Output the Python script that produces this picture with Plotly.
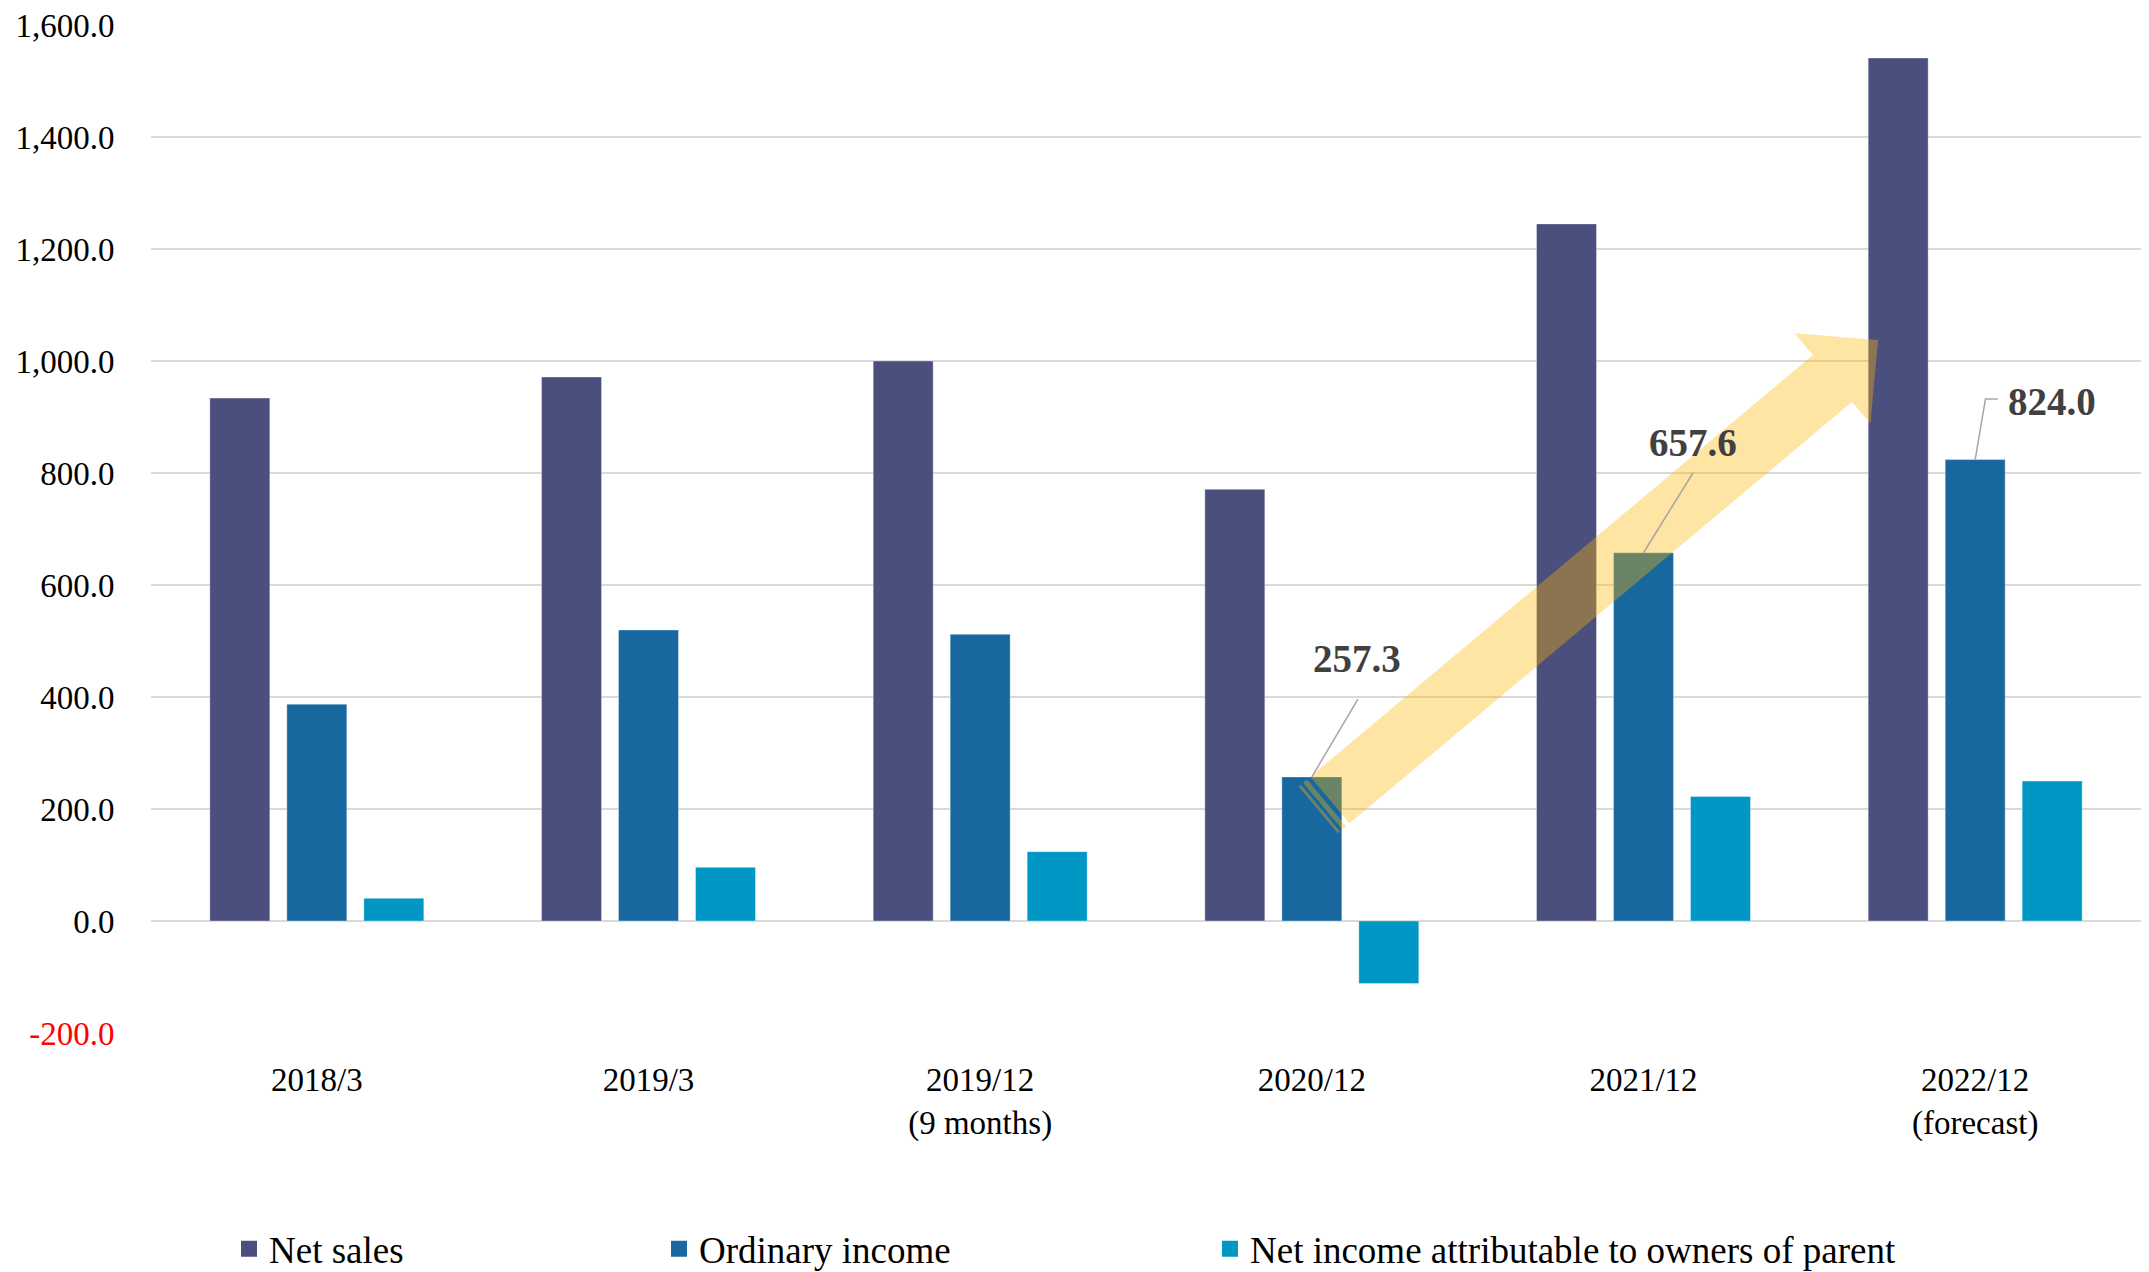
import math
import plotly.graph_objects as go

# Fiscal periods and results (hundred-million yen)
categories = ["2018/3", "2019/3", "2019/12<br>(9 months)", "2020/12", "2021/12", "2022/12<br>(forecast)"]
net_sales = [933.8, 971.3, 999.9, 770.8, 1244.8, 1541.0]
ordinary_income = [387.2, 519.6, 511.9, 257.3, 657.6, 824.0]
net_income = [40.5, 95.8, 123.8, -111.7, 222.5, 249.8]

series_names = ["Net sales", "Ordinary income", "Net income attributable to owners of parent"]
series_colors = ["#4B4F7D", "#18689F", "#0097C4"]

y_ticks = [-200, 0, 200, 400, 600, 800, 1000, 1200, 1400, 1600]

# Highlighted ordinary-income labels: (category index, value)
callouts = [(3, ordinary_income[3]), (4, ordinary_income[4]), (5, ordinary_income[5])]

W, H = 2149, 1272
M_L, M_R, M_T, M_B = 151, 8, 25, 239
PW, PH = W - M_L - M_R, H - M_T - M_B
Y_MIN, Y_MAX = -200, 1600
FONT = "Liberation Serif"

fig = go.Figure()
for name, vals, col in zip(series_names, [net_sales, ordinary_income, net_income], series_colors):
    fig.add_trace(go.Bar(
        x=categories, y=vals, name=name, showlegend=False,
        marker=dict(color=col, line=dict(width=1, color="rgba(255,255,255,0.35)")),
    ))

# Legend entries with larger square swatches, each in its own legend box
legend_ids = ["legend", "legend2", "legend3"]
for name, col, lid in zip(series_names, series_colors, legend_ids):
    fig.add_trace(go.Scatter(
        x=[None], y=[None], mode="markers", name=name, legend=lid,
        marker=dict(symbol="square", size=23, color=col),
    ))


def px_to_paper(px, py):
    return (px - M_L) / PW, (M_T + PH - py) / PH


def arrow_polygon(tail, angle_deg, half_w, body_len, head_half_w, head_len):
    ux, uy = math.cos(math.radians(angle_deg)), -math.sin(math.radians(angle_deg))
    nx, ny = -uy, ux
    tx, ty = tail
    def p(a, b):
        return (tx + ux * a + nx * b, ty + uy * a + ny * b)
    pts = [p(0, -half_w), p(body_len, -half_w), p(body_len, -head_half_w),
           p(body_len + head_len, 0), p(body_len, head_half_w), p(body_len, half_w),
           p(0, half_w)]
    return pts, p


def to_path(pts):
    segs = []
    for i, (x, y) in enumerate(pts):
        xp, yp = px_to_paper(x, y)
        segs.append(("M" if i == 0 else "L") + f"{xp:.5f},{yp:.5f}")
    return " ".join(segs) + " Z"


ARROW_FILL = "rgba(255,184,0,0.36)"
body, p = arrow_polygon((1330, 800), 40, 30.5, 656, 59, 59.5)
shapes = [dict(type="path", xref="paper", yref="paper", path=to_path(body),
               fillcolor=ARROW_FILL, line=dict(width=0), layer="above")]
for a0, a1 in [(-4.5, -9.5), (-12.5, -15.5)]:
    stripe = [p(a0, -30.5), p(a1, -30.5), p(a1, 30.5), p(a0, 30.5)]
    shapes.append(dict(type="path", xref="paper", yref="paper", path=to_path(stripe),
                       fillcolor=ARROW_FILL, line=dict(width=0), layer="above"))

# Leader lines from the labels to the bar tops
LEADER = dict(color="#A6A6A6", width=1.5)
leader_paths = [
    [(3.139, 396.4), (callouts[0][0], callouts[0][1])],
    [(4.149, 800.0), (callouts[1][0], callouts[1][1])],
    [(5.068, 932.0), (5.031, 932.0), (callouts[2][0], callouts[2][1])],
]
for pts in leader_paths:
    d = " ".join(("M" if i == 0 else "L") + f"{x},{y}" for i, (x, y) in enumerate(pts))
    shapes.append(dict(type="path", xref="x", yref="y", path=d, line=LEADER, layer="above"))

label_pos = [(3.136, 469.6), (4.149, 853.6), (5.232, 926.8)]
annotations = []
for (ci, v), (lx, ly) in zip(callouts, label_pos):
    annotations.append(dict(
        x=lx, y=ly, xref="x", yref="y", text=f"<b>{v:.1f}</b>", showarrow=False,
        font=dict(family=FONT, size=39, color="#404040"), xanchor="center", yanchor="middle",
    ))

tick_text = []
for t in y_ticks:
    s = f"{t:,.1f}"
    tick_text.append(f"<span style='color:#FF0000'>{s}</span>" if t < 0 else s)

legend_x_px = [229, 659, 1210]
legend_common = dict(orientation="h", yanchor="middle", xanchor="left", y=-0.2145,
                     font=dict(family=FONT, size=37, color="#000000"),
                     bgcolor="rgba(0,0,0,0)", borderwidth=0, itemsizing="trace")
legends = {}
for lid, lx in zip(legend_ids, legend_x_px):
    legends[lid] = dict(legend_common, x=(lx - M_L) / PW)

fig.update_layout(
    width=W, height=H,
    margin=dict(l=M_L, r=M_R, t=M_T, b=M_B, autoexpand=False),
    paper_bgcolor="white", plot_bgcolor="white",
    barmode="group", bargap=0.3036, bargroupgap=0.221,
    font=dict(family=FONT, size=33, color="#000000"),
    xaxis=dict(
        type="category", range=[-0.5, 5.5], showgrid=False, showline=False, zeroline=False,
        ticks="outside", ticklen=17, tickcolor="rgba(0,0,0,0)",
        tickfont=dict(family=FONT, size=33, color="#000000"),
    ),
    yaxis=dict(
        range=[Y_MIN, Y_MAX], tickvals=y_ticks, ticktext=tick_text,
        showgrid=True, gridcolor="#D9D9D9", gridwidth=2,
        zeroline=True, zerolinecolor="#D9D9D9", zerolinewidth=2, showline=False,
        ticks="outside", ticklen=29, tickcolor="rgba(0,0,0,0)",
        tickfont=dict(family=FONT, size=33, color="#000000"),
    ),
    shapes=shapes,
    annotations=annotations,
    **legends,
)

fig.write_html("out.html")
